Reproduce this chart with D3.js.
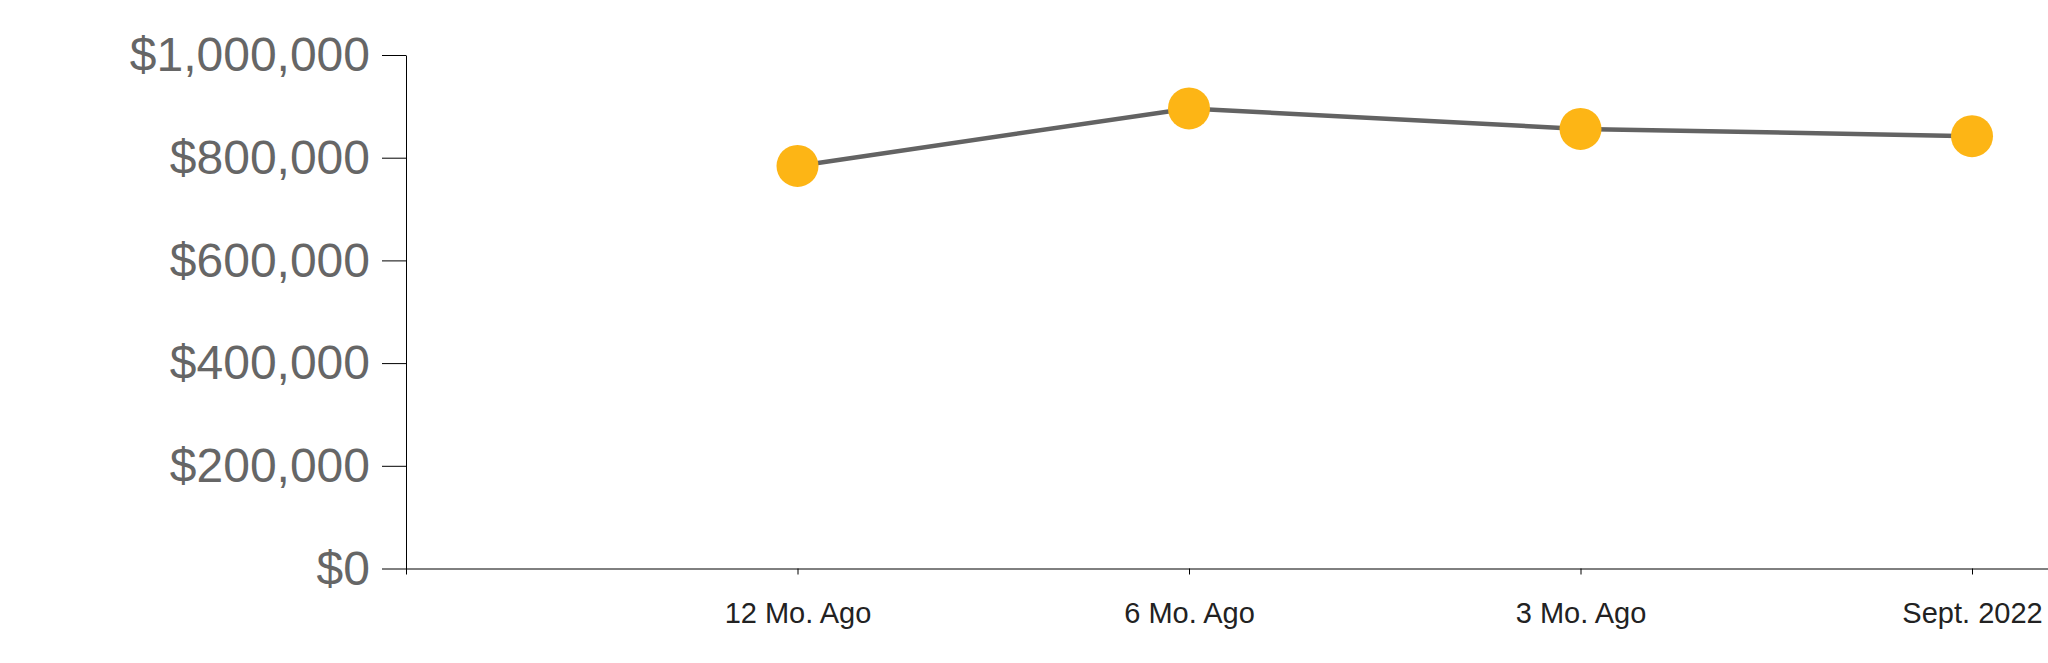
<!DOCTYPE html>
<html>
<head>
<meta charset="utf-8">
<script src="https://cdn.jsdelivr.net/npm/d3@7"></script>
<style>
  html, body { margin: 0; padding: 0; background: #fff; overflow: hidden; }
  svg { display: block; }
</style>
</head>
<body>
<svg id="chart" width="2048" height="663"></svg>
<script>
const categories = ["12 Mo. Ago", "6 Mo. Ago", "3 Mo. Ago", "Sept. 2022"];
const values = [784000, 896000, 856000, 842000];
const yTicks = [0, 200000, 400000, 600000, 800000, 1000000];

const svg = d3.select("#chart");
const x0 = 406, step = 391.5;
const x = d3.scaleLinear().domain([0, categories.length + 1]).range([x0, x0 + step * (categories.length + 1)]);
const y = d3.scaleLinear().domain([0, 1000000]).range([568.5, 55]);

const fmt = d => "$" + d3.format(",")(d);

const gy = svg.append("g").attr("transform", `translate(${x0},0)`)
  .call(d3.axisLeft(y).tickValues(yTicks).tickFormat(fmt).tickSizeInner(24).tickSizeOuter(0).tickPadding(12));
gy.selectAll("text").attr("font-family", "'Liberation Sans', Arial, sans-serif").attr("font-size", 48).attr("fill", "#666").attr("dy", "0.33em");
gy.selectAll("line, path").attr("stroke", "#000");

const gx = svg.append("g").attr("transform", `translate(0,${y(0)})`)
  .call(d3.axisBottom(x).tickValues(categories.map((c, i) => i + 1)).tickFormat(i => categories[i - 1]).tickSize(6).tickPadding(28));
gx.selectAll("text").attr("font-family", "'Liberation Sans', Arial, sans-serif").attr("font-size", 29).attr("fill", "#222");
gx.selectAll("line, path").attr("stroke", "#000");

const data = categories.map((c, i) => ({ c, i: i + 1, v: values[i] }));

svg.append("path").datum(data)
  .attr("fill", "none").attr("stroke", "#636363").attr("stroke-width", 4.5)
  .attr("d", d3.line().x(d => x(d.i)).y(d => y(d.v)));

svg.selectAll("circle.pt").data(data).enter().append("circle")
  .attr("class", "pt")
  .attr("cx", d => x(d.i)).attr("cy", d => y(d.v)).attr("r", 21)
  .attr("fill", "#FDB515");
</script>
</body>
</html>
